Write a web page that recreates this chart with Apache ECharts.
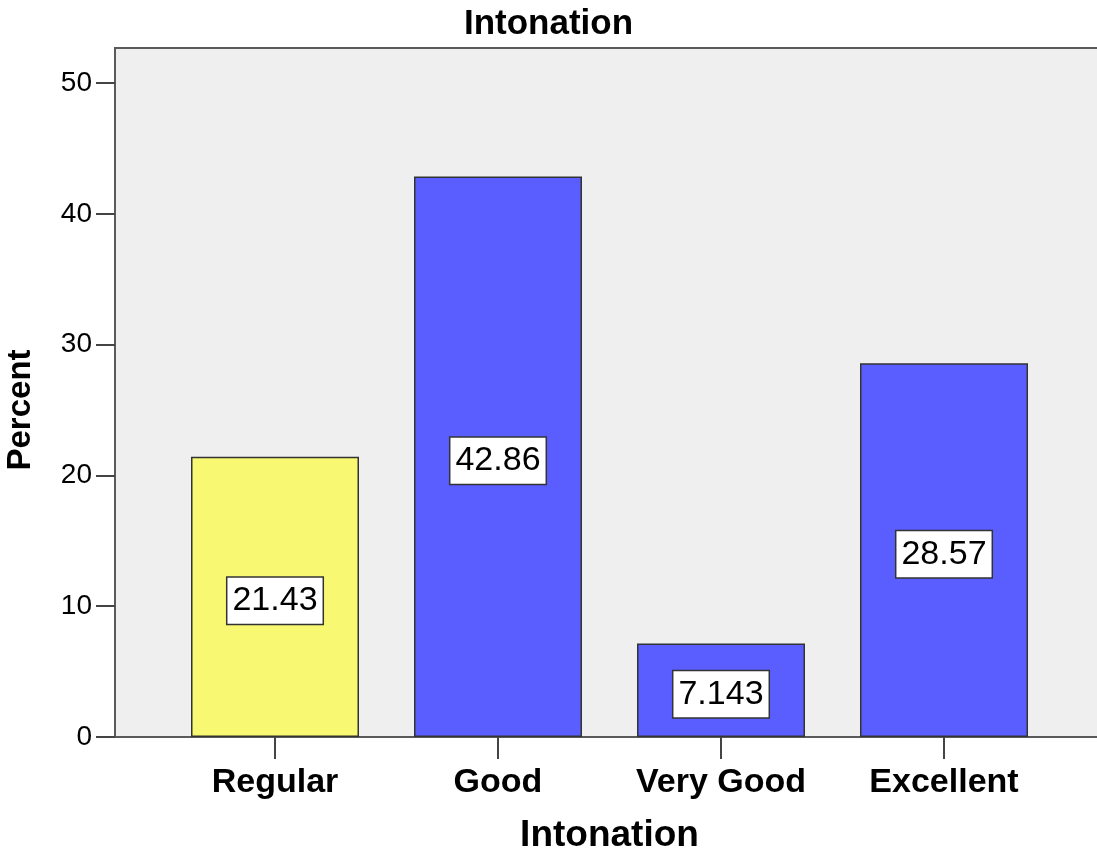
<!DOCTYPE html>
<html>
<head>
<meta charset="utf-8">
<script src="https://cdn.jsdelivr.net/npm/echarts@6/dist/echarts.min.js"></script>
<style>
  html, body { margin: 0; padding: 0; background: #ffffff; }
  #chart { width: 1097px; height: 858px; }
</style>
</head>
<body>
<div id="chart"></div>
<script>
// Ratings and their share of responses (percent)
const categories = ['Regular', 'Good', 'Very Good', 'Excellent'];
const percents = [21.43, 42.86, 7.143, 28.57];
const barColors = ['#f9f872', '#5a5eff', '#5a5eff', '#5a5eff'];
const yTicks = { min: 0, max: 50, interval: 10 };

const FONT = '"Liberation Sans", Arial, sans-serif';

const chart = echarts.init(document.getElementById('chart'), null, { renderer: 'canvas' });

chart.setOption({
  animation: false,
  backgroundColor: '#ffffff',
  title: {
    text: 'Intonation',
    left: 'center',
    top: 2,
    textStyle: { fontFamily: FONT, fontSize: 35, fontWeight: 'bold', color: '#000' }
  },
  grid: [
    // framed plot background, running off the right edge
    {
      left: 115, top: 48, bottom: 121, width: 1100,
      outerBoundsMode: 'none',
      show: true, backgroundColor: '#efefef',
      borderColor: '#5a5a5a', borderWidth: 2
    },
    // data area
    { left: 163.5, width: 892, top: 83, bottom: 121, outerBoundsMode: 'none' }
  ],
  xAxis: [
    { gridIndex: 0, type: 'value', show: false },
    {
      gridIndex: 1,
      type: 'category',
      data: categories,
      axisLine: { show: false },
      axisTick: { show: true, interval: 0, alignWithLabel: true, length: 22, lineStyle: { color: '#444', width: 2 } },
      axisLabel: { interval: 0, hideOverlap: false, margin: 29, fontFamily: FONT, fontSize: 34, fontWeight: 'bold', color: '#000' },
      name: 'Intonation',
      nameLocation: 'middle',
      nameGap: 80,
      nameTextStyle: { fontFamily: FONT, fontSize: 37, fontWeight: 'bold', color: '#000' }
    }
  ],
  yAxis: [
    { gridIndex: 0, type: 'value', show: false },
    {
      gridIndex: 1,
      type: 'value',
      min: yTicks.min,
      max: yTicks.max,
      interval: yTicks.interval,
      offset: 48.5,
      splitLine: { show: false },
      axisLine: { show: false },
      axisTick: { show: true, length: 19, lineStyle: { color: '#444', width: 2 } },
      axisLabel: { margin: 23, fontFamily: FONT, fontSize: 28, color: '#000' },
      name: 'Percent',
      nameLocation: 'middle',
      nameGap: 78,
      nameTextStyle: { fontFamily: FONT, fontSize: 33, fontWeight: 'bold', color: '#000' }
    }
  ],
  series: [
    {
      type: 'bar',
      xAxisIndex: 1,
      yAxisIndex: 1,
      barWidth: 168,
      data: percents.map((v, i) => ({ value: v, itemStyle: { color: barColors[i] } })),
      itemStyle: { borderColor: '#333', borderWidth: 1.5 },
      label: {
        show: true,
        position: 'inside',
        offset: [0, 4],
        formatter: '{c}',
        fontFamily: FONT,
        fontSize: 34,
        color: '#000',
        backgroundColor: '#ffffff',
        borderColor: '#333',
        borderWidth: 1.5,
        padding: [7, 5, 5, 5]
      }
    }
  ]
});
</script>
</body>
</html>
